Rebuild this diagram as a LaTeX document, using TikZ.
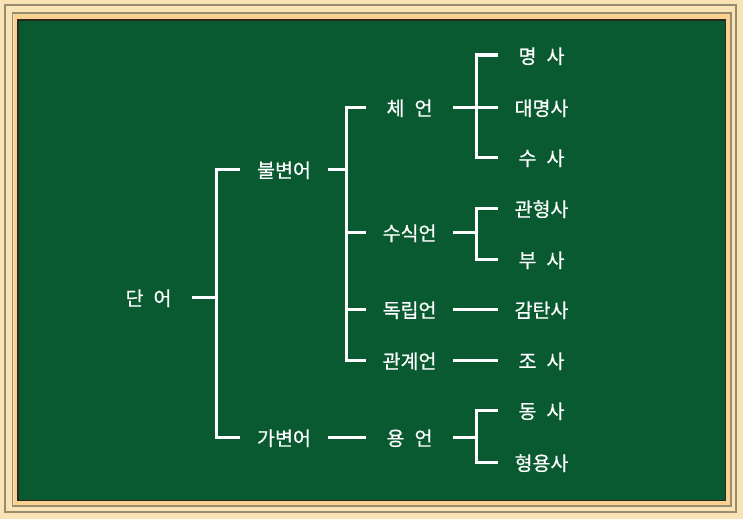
\documentclass[tikz,border=0pt]{standalone}
\usepackage{fontspec}
\newfontfamily\kr[WordSpace=2.3,FakeBold=0.6]{Noto Sans CJK KR}
\definecolor{board}{RGB}{9,90,49}
\definecolor{cream}{RGB}{250,227,181}
\definecolor{wood}{RGB}{248,210,142}
\definecolor{rim}{RGB}{152,140,112}
\definecolor{edge}{RGB}{40,40,28}

\begin{document}
\begin{tikzpicture}[x=1pt,y=-1pt,
  word/.style={text=white,font=\kr\fontsize{19.5}{22}\selectfont,minimum width=87pt,inner sep=0pt,text height=18pt,text depth=1pt},
  branch/.style={white,line width=3pt}]
\useasboundingbox (0,0) rectangle (743,519);
\fill [cream] (0,0) rectangle (743,519);
\draw [rim, line width=1.5pt] (5,5) rectangle (736,512);
\draw [rim, line width=1.5pt] (12.5,13) rectangle (731,506);
\fill [wood] (13.5,14) rectangle (730,505);
\draw [edge, fill=board, line width=1.2pt] (18,20) rectangle (725.5,500.5);

\node [word] (daneo) at (148.5,297) {단 어};
\node [word] (bul) at (284,169) {불변어};
\node [word] (ga) at (284,437) {가변어};

\node [word] (che) at (409.5,107) {체 언};
\node [word] (susik) at (409.5,232) {수식언};
\node [word] (dok) at (409.5,309) {독립언};
\node [word] (gwan) at (409.5,360) {관계언};
\node [word] (yong) at (409.5,437) {용 언};

\foreach \name/\y/\txt in {myeong/55/명 사, daemyeong/107/대명사, su/157/수 사,
  gwanhyeong/208/관형사, bu/259/부 사, gamtan/309/감탄사, jo/360/조 사,
  dong/410/동 사, hyeongyong/462/형용사}
  \node [word] (\name) at (541.5,\y) {\txt};

\draw [branch] (daneo.east) -- ++(24,0) coordinate (j1);
\draw [branch] (bul.west) -| (j1) |- (ga.west);

\draw [branch] (bul.east) -- ++(18.5,0) coordinate (j2);
\draw [branch] (che.west) -| (j2) |- (gwan.west);
\draw [branch] (j2) |- (susik.west);
\draw [branch] (j2) |- (dok.west);
\draw [branch] (ga.east) -- (yong.west);

\draw [branch] (che.east) -- ++(23,0) coordinate (j3);
\draw [branch] (myeong.west) -| (j3) |- (su.west);
\draw [branch] (j3) -- (daemyeong.west);

\draw [branch] (susik.east) -- ++(23,0) coordinate (j4);
\draw [branch] (gwanhyeong.west) -| (j4) |- (bu.west);

\draw [branch] (dok.east) -- (gamtan.west);
\draw [branch] (gwan.east) -- (jo.west);

\draw [branch] (yong.east) -- ++(23,0) coordinate (j5);
\draw [branch] (dong.west) -| (j5) |- (hyeongyong.west);
\end{tikzpicture}
\end{document}
